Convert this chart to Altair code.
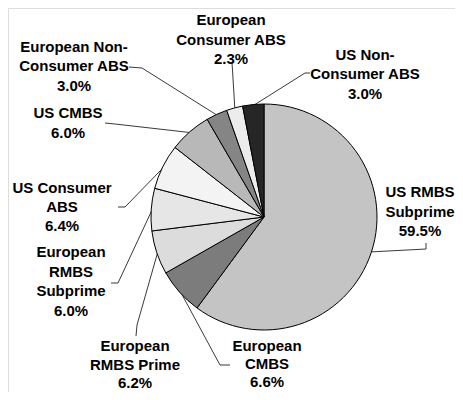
import math
import altair as alt
import pandas as pd

# ---- data ----
categories = [
    "US RMBS Subprime", "European CMBS", "European RMBS Prime",
    "European RMBS Subprime", "US Consumer ABS", "US CMBS",
    "European Non-Consumer ABS", "European Consumer ABS", "US Non-Consumer ABS",
]
shares = [59.5, 6.6, 6.2, 6.0, 6.4, 6.0, 3.0, 2.3, 3.0]
label_lines = [
    ["US RMBS", "Subprime"],
    ["European", "CMBS"],
    ["European", "RMBS Prime"],
    ["European", "RMBS", "Subprime"],
    ["US Consumer", "ABS"],
    ["US CMBS"],
    ["European Non-", "Consumer ABS"],
    ["European", "Consumer ABS"],
    ["US Non-", "Consumer ABS"],
]

# ---- styling / layout ----
fills = ["#c4c4c4", "#7c7c7c", "#dcdcdc", "#e6e6e6", "#f3f3f3",
         "#b8b8b8", "#858585", "#ececec", "#262626"]
W, H = 447, 384
CX, CY, R = 256, 209, 113
# label block centre x, first-line y, line height (plot coords)
label_pos = [(412, 184, 19.5), (259, 338, 18.0), (127, 338, 18.5), (63, 244, 19.5),
             (54, 180, 19.0), (60, 105, 20.0), (66, 39, 19.3), (223, 12, 19.5),
             (357, 47, 19.3)]
# leader elbow and end points (plot coords)
leader_pts = [
    [(418, 241), (418, 235)],
    [(212, 357), (222, 357)],
    [(129, 317), (128, 328)],
    [(110, 275), (103, 275)],
    [(117, 199), (110, 199)],
    [(107, 116), (97, 115)],
    [(134, 60), (121, 59)],
    [(224.5, 62), (224, 55)],
    [(297, 65), (302, 65)],
]

pie_df = pd.DataFrame({"cat": categories, "share": shares,
                       "idx": list(range(len(categories)))})

# text rows
trows = []
for i, (c, v) in enumerate(zip(categories, shares)):
    lines = label_lines[i] + [f"{v:.1f}%"]
    x0, y0, lh = label_pos[i]
    for j, t in enumerate(lines):
        trows.append({"cat": c, "text": t, "x": x0, "y": y0 + j * lh})
text_df = pd.DataFrame(trows)

# leader rows: start at slice mid-angle on pie edge
total = sum(shares)
cum = 0.0
lrows = []
for i, (c, v) in enumerate(zip(categories, shares)):
    mid = (cum + v / 2) / total * 2 * math.pi
    cum += v
    px = CX + (R - 1) * math.sin(mid)
    py = CY - (R - 1) * math.cos(mid)
    pts = [(px, py)] + leader_pts[i]
    for k, (x, y) in enumerate(pts):
        lrows.append({"cat": c, "k": k, "x": x, "y": y})
lead_df = pd.DataFrame(lrows)

xs = alt.Scale(domain=[0, W], nice=False, zero=False)
ys = alt.Scale(domain=[0, H], nice=False, zero=False, reverse=True)

pie = alt.Chart(pie_df).mark_arc(radius=R, stroke="black", strokeWidth=1).encode(
    theta=alt.Theta("share:Q", stack=True),
    order=alt.Order("idx:Q"),
    color=alt.Color("cat:N", scale=alt.Scale(domain=categories, range=fills), legend=None),
    x=alt.value(CX),
    y=alt.value(CY),
)

leaders = alt.Chart(lead_df).mark_line(color="#222222", strokeWidth=0.9).encode(
    x=alt.X("x:Q", scale=xs, axis=None),
    y=alt.Y("y:Q", scale=ys, axis=None),
    detail="cat:N",
    order="k:Q",
)

labels = alt.Chart(text_df).mark_text(
    font="Liberation Sans", fontSize=15, fontWeight="bold",
    align="center", baseline="middle", color="black",
).encode(
    x=alt.X("x:Q", scale=xs, axis=None),
    y=alt.Y("y:Q", scale=ys, axis=None),
    text="text:N",
)

chart = alt.layer(leaders, pie, labels).properties(
    width=W, height=H, padding=0, autosize="none"
).configure_view(strokeWidth=0).configure(background="white")

chart.save("out.html", embed_options={"renderer": "svg", "actions": False})
